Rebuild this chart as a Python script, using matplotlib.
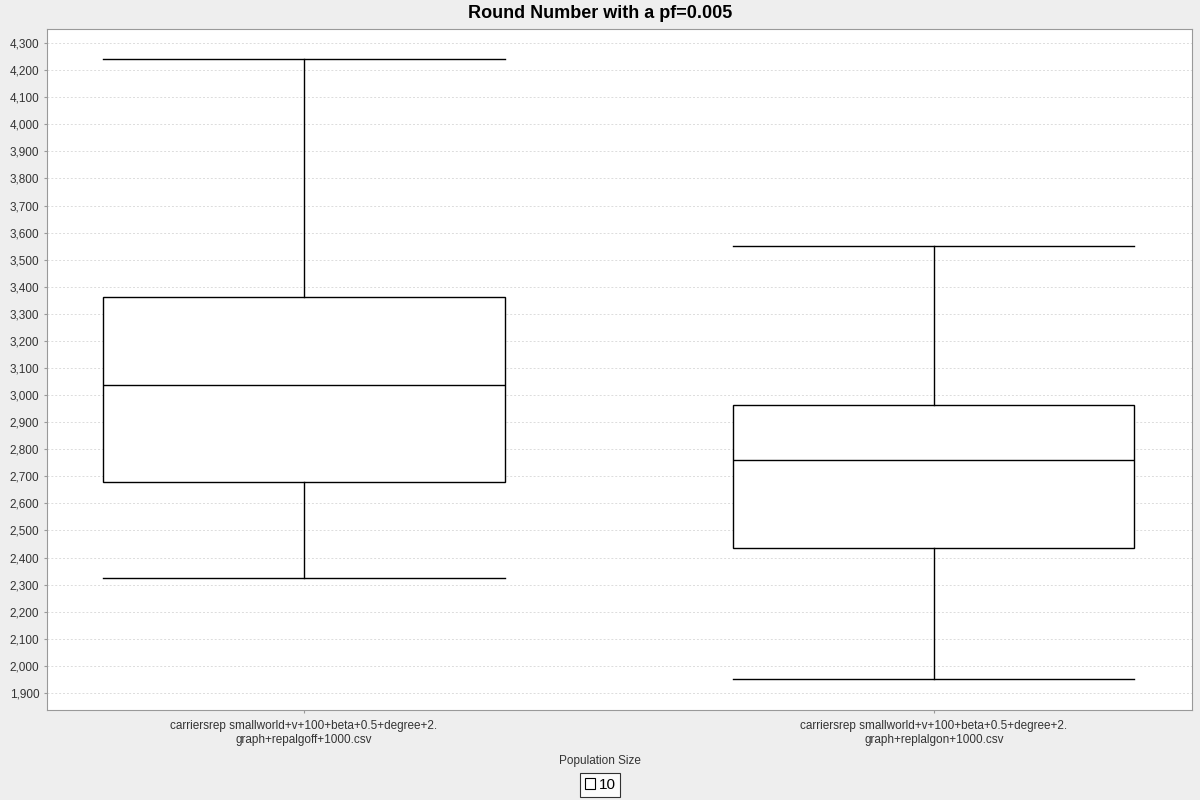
import matplotlib
matplotlib.use("Agg")
import matplotlib.pyplot as plt
from matplotlib.patches import Patch
from matplotlib.ticker import FuncFormatter, MultipleLocator

plt.rcParams["font.family"] = ["Liberation Sans", "DejaVu Sans"]

categories = [
    "carriersrep smallworld+v+100+beta+0.5+degree+2.\ngraph+repalgoff+1000.csv",
    "carriersrep smallworld+v+100+beta+0.5+degree+2.\ngraph+replalgon+1000.csv",
]
whisker_low = [2325, 1952]
q1 = [2679, 2435]
median = [3037, 2760]
q3 = [3362, 2963]
whisker_high = [4241, 3550]
legend_label = "10"

stats = []
for i in range(len(categories)):
    stats.append({
        "whislo": whisker_low[i], "q1": q1[i], "med": median[i],
        "q3": q3[i], "whishi": whisker_high[i], "fliers": [],
    })

fig = plt.figure(figsize=(12, 8), dpi=100, facecolor="#eeeeee")
ax = fig.add_axes([47 / 1200, 90 / 800, 1145 / 1200, 681 / 800])
ax.set_facecolor("white")

line = dict(color="black", linewidth=1)
ax.bxp(stats, positions=range(len(categories)), widths=0.637, capwidths=0.637,
       patch_artist=True, showfliers=False,
       boxprops=dict(facecolor="white", edgecolor="black", linewidth=1),
       medianprops=line, whiskerprops=line, capprops=line)

ax.set_xlim(-0.408, 1.41)
ax.set_ylim(1837, 4352)
ax.yaxis.set_major_locator(MultipleLocator(100))
ax.yaxis.set_major_formatter(FuncFormatter(lambda v, p: f"{int(v):,}"))
ax.set_xticks(range(len(categories)))
ax.set_xticklabels(categories, fontsize=8.5, color="#333333")
ax.tick_params(axis="y", labelsize=8.5, labelcolor="#333333", length=2, color="#999999")
ax.tick_params(axis="x", length=2, color="#999999", pad=5)
ax.grid(axis="y", linestyle=(0, (2, 2)), color="#dcdcdc", linewidth=0.7)
ax.set_axisbelow(True)
for s in ax.spines.values():
    s.set_color("#999999")

fig.text(0.5, 1 - 13 / 800, "Round Number with a pf=0.005", ha="center", va="center",
         fontsize=13, fontweight="bold")
fig.text(0.5, 1 - 761 / 800, "Population Size", ha="center", va="center",
         fontsize=8.5, color="#333333")
leg = fig.legend(handles=[Patch(facecolor="white", edgecolor="black", linewidth=0.8)],
                 labels=[legend_label], loc="center", bbox_to_anchor=(0.5, 1 - 785 / 800),
                 frameon=True, fancybox=False, fontsize=11, handlelength=0.7,
                 handleheight=0.7, handletextpad=0.2, borderpad=0.3)
leg.get_frame().set_edgecolor("black")
leg.get_frame().set_linewidth(0.8)

fig.savefig("out.png", dpi=100, facecolor=fig.get_facecolor())
